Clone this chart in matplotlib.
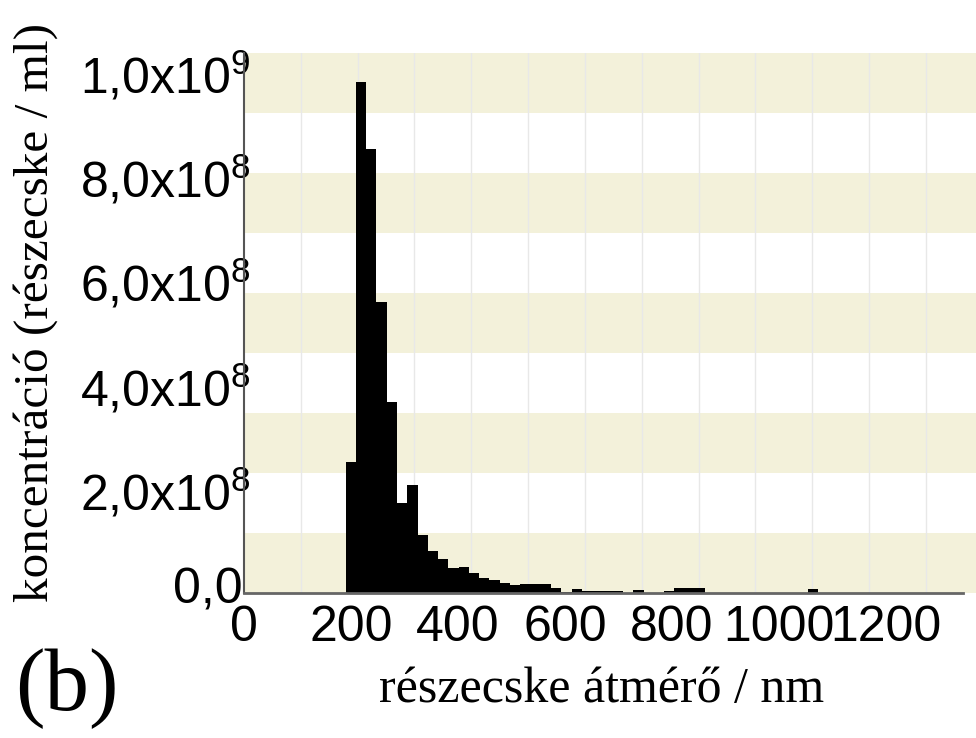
import matplotlib
matplotlib.use("Agg")
import matplotlib.pyplot as plt
import matplotlib.transforms as mtransforms
import numpy as np

# histogram: left edge of first bin (nm), bin width (nm), concentration per bin (x1e8 /ml)
bin_start = 190.0
bin_width = 19.2
conc_e8 = [2.51, 9.80, 8.50, 5.58, 3.66, 1.72, 2.06, 1.12, 0.80, 0.65,
           0.47, 0.50, 0.39, 0.29, 0.25, 0.20, 0.15, 0.17, 0.17, 0.17,
           0.09, 0.01, 0.08, 0.04, 0.04, 0.04, 0.04, 0.0, 0.06, 0.0,
           0.0, 0.03, 0.09, 0.09, 0.09, 0.0, 0.0, 0.0, 0.0, 0.0,
           0.0, 0.0, 0.0, 0.0, 0.0, 0.08]

x_ticks = [0, 200, 400, 600, 800, 1000, 1200]
x_ticklabels = ["0", "200", "400", "600", "800", "1000", "1200"]
y_ticks = [0, 2e8, 4e8, 6e8, 8e8, 1e9]
y_ticklabels = ["0,0", r"2,0x10$^{8}$", r"4,0x10$^{8}$", r"6,0x10$^{8}$",
                r"8,0x10$^{8}$", r"1,0x10$^{9}$"]

plt.rcParams['mathtext.fontset'] = 'custom'
plt.rcParams['mathtext.rm'] = 'Liberation Sans'
plt.rcParams['mathtext.it'] = 'Liberation Sans'
plt.rcParams['mathtext.bf'] = 'Liberation Sans'

fig = plt.figure(figsize=(9.76, 7.38), dpi=100)
ax = fig.add_axes([0.25, 0.1965, 0.75, 0.7315])

xmax = 1368
ymax = 1.0345e9
ax.set_xlim(0, xmax)
ax.set_ylim(0, ymax)

# striped background
band = ymax / 9
for i in range(9):
    if i % 2 == 0:
        ax.axhspan(i * band, (i + 1) * band, color='#f3f1da', lw=0, zorder=0)

# vertical grid lines
grid_step = 106.2
for gx in np.arange(1, 13) * grid_step:
    ax.axvline(gx, color='#e8e8e8', lw=1.0, zorder=1)

edges = bin_start + bin_width * np.arange(len(conc_e8))
heights = np.array(conc_e8) * 1e8
ax.bar(edges, heights, width=bin_width, align='edge', color='black',
       linewidth=0, zorder=2)

for s in ['top', 'right']:
    ax.spines[s].set_visible(False)
ax.spines['left'].set_color('#555555')
ax.spines['left'].set_linewidth(1.5)
ax.spines['bottom'].set_color('#666666')
ax.spines['bottom'].set_linewidth(2.0)
ax.spines['bottom'].set_bounds(0, 1344)
ax.spines['left'].set_zorder(3)
ax.spines['bottom'].set_zorder(3)

ax.set_xticks(x_ticks)
ax.set_xticklabels(x_ticklabels, fontsize=36, family='Liberation Sans')
ax.set_yticks(y_ticks)
ax.set_yticklabels(y_ticklabels, fontsize=36, family='Liberation Sans')
ax.tick_params(axis='both', length=0)
ax.tick_params(axis='x', pad=9)
ax.tick_params(axis='y', pad=-5)

# nudge the "0,0" label up/left like the reference
lab0 = ax.get_yticklabels()[0]
lab0.set_transform(lab0.get_transform() +
                   mtransforms.ScaledTranslation(-8 / 100, 7 / 100, fig.dpi_scale_trans))

fig.text(0.036, 0.577, "koncentráció (részecske / ml)", rotation=90,
         ha='center', va='center', fontsize=35.5, family='Liberation Serif')
fig.text(0.616, 0.065, "részecske átmérő / nm", ha='center', va='center',
         fontsize=36, family='Liberation Serif')
fig.text(0.069, 0.067, "(b)", ha='center', va='center', fontsize=64,
         family='Liberation Serif')

fig.savefig("out.png", dpi=100)
